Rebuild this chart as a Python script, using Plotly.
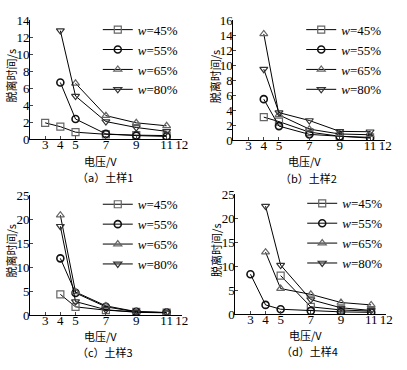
import plotly.graph_objects as go

# ---- data ----
series_names = ["<i>w</i>=45%", "<i>w</i>=55%", "<i>w</i>=65%", "<i>w</i>=80%"]

a_x45 = [3, 4, 5, 7, 9, 11]; a_y45 = [1.95, 1.5, 0.85, 0.6, 0.5, 0.45]
a_x55 = [4, 5, 7, 9, 11];    a_y55 = [6.7, 2.4, 0.65, 0.45, 0.35]
a_x65 = [5, 7, 9, 11];       a_y65 = [6.6, 2.8, 1.95, 1.6]
a_x80 = [4, 5, 7, 9, 11];    a_y80 = [12.8, 5.1, 2.1, 1.4, 0.95]

b_x45 = [4, 5, 7, 9, 11]; b_y45 = [3.1, 2.5, 1.1, 0.55, 0.4]
b_x55 = [4, 5, 7, 9, 11]; b_y55 = [5.5, 1.9, 0.8, 0.5, 0.3]
b_x65 = [4, 5, 7, 9, 11]; b_y65 = [14.2, 3.4, 1.5, 0.85, 0.75]
b_x80 = [4, 5, 7, 9, 11]; b_y80 = [9.5, 3.7, 2.65, 1.2, 1.15]

c_x45 = [4, 5, 7, 9, 11]; c_y45 = [4.3, 1.7, 1.0, 0.65, 0.5]
c_x55 = [4, 5, 7, 9, 11]; c_y55 = [11.8, 4.6, 1.7, 0.65, 0.5]
c_x65 = [4, 5, 7, 9, 11]; c_y65 = [20.8, 4.8, 1.9, 0.7, 0.5]
c_x80 = [4, 5, 7, 9, 11]; c_y80 = [18.5, 2.8, 1.1, 0.55, 0.45]

d_x45 = [5, 7, 9, 11];       d_y45 = [8.0, 1.5, 0.85, 0.6]
d_x55 = [3, 4, 5, 7, 9, 11]; d_y55 = [8.3, 1.9, 1.0, 0.65, 0.45, 0.35]
d_x65 = [4, 5, 7, 9, 11];    d_y65 = [12.9, 5.3, 4.1, 2.4, 1.9]
d_x80 = [4, 5, 7, 9, 11];    d_y80 = [22.5, 10.2, 3.0, 1.3, 0.75]

x_ticks = [3, 4, 5, 7, 9, 11, 12]
y_ticks_a = [0, 2, 4, 6, 8, 10, 12, 14]
y_ticks_b = [0, 2, 4, 6, 8, 10, 12, 14, 16]
y_ticks_cd = [0, 5, 10, 15, 20, 25]

captions = ["（a）土样1", "（b）土样2", "（c）土样3", "（d）土样4"]
x_title = "电压/V"
y_title = "脱离时间/s"

# ---- styling ----
W, H = 407, 370
SERIF = "Liberation Serif"
CJK = "Noto Sans CJK SC"
marker_styles = [
    dict(symbol="square-open", color="#666666", line=dict(width=1.2, color="#666666")),
    dict(symbol="circle-open", color="#111111", line=dict(width=1.6, color="#111111")),
    dict(symbol="triangle-up-open", color="#666666", line=dict(width=1.2, color="#666666")),
    dict(symbol="triangle-down-open", color="#333333", line=dict(width=1.2, color="#333333")),
]

# panel pixel boxes: (left, right, top, bottom)
boxes = [
    (30.5, 185, 14, 138),
    (237.5, 392, 14, 139),
    (30.5, 185, 196, 321),
    (239.5, 393, 195, 320),
]
yranges = [[0, 14], [0, 16], [0, 25], [0, 25]]
yticks = [y_ticks_a, y_ticks_b, y_ticks_cd, y_ticks_cd]

panels = [
    [(a_x45, a_y45), (a_x55, a_y55), (a_x65, a_y65), (a_x80, a_y80)],
    [(b_x45, b_y45), (b_x55, b_y55), (b_x65, b_y65), (b_x80, b_y80)],
    [(c_x45, c_y45), (c_x55, c_y55), (c_x65, c_y65), (c_x80, c_y80)],
    [(d_x45, d_y45), (d_x55, d_y55), (d_x65, d_y65), (d_x80, d_y80)],
]

fig = go.Figure()
layout = dict(
    width=W, height=H,
    margin=dict(l=0, r=0, t=0, b=0),
    paper_bgcolor="white", plot_bgcolor="white",
    showlegend=True,
    font=dict(family=SERIF, size=12, color="black"),
)
annotations = []

for i, (series, box) in enumerate(zip(panels, boxes)):
    k = "" if i == 0 else str(i + 1)
    leg = "legend" + k
    for j, (xs, ys) in enumerate(series):
        fig.add_trace(go.Scatter(
            x=xs, y=ys, mode="lines+markers", name=series_names[j],
            line=dict(color="black", width=1),
            marker=dict(size=7, **marker_styles[j]),
            xaxis="x" + k, yaxis="y" + k, legend=leg,
        ))
    l, r, t, b = box
    dom_x = [l / W, r / W]
    dom_y = [1 - b / H, 1 - t / H]
    layout["xaxis" + k] = dict(
        domain=dom_x, range=[2, 12], tickvals=x_ticks, ticks="inside", ticklen=3,
        showline=True, linecolor="black", linewidth=1, showgrid=False, zeroline=False,
        tickfont=dict(family=SERIF, size=13, color="black"), anchor="y" + k,
        ticklabelstandoff=-7,
    )
    layout["yaxis" + k] = dict(
        domain=dom_y, range=yranges[i], tickvals=yticks[i], ticks="inside", ticklen=3,
        showline=True, linecolor="black", linewidth=1, showgrid=False, zeroline=False,
        tickfont=dict(family=SERIF, size=13, color="black"), anchor="x" + k,
        ticklabelstandoff=-3,
    )
    layout[leg] = dict(
        x=(r + 2) / W, xanchor="right", y=1 - (t - 6) / H, yanchor="top",
        bgcolor="rgba(0,0,0,0)", font=dict(family=SERIF, size=13, color="black"),
        itemwidth=30, tracegroupgap=0,
    )
    cx = (l + r) / 2
    annotations.append(dict(
        text=y_title, xref="paper", yref="paper", x=(l - 19) / W, y=1 - ((t + b) / 2 - 4) / H,
        textangle=-90, showarrow=False, xanchor="center", yanchor="middle",
        font=dict(family=CJK, size=11, color="black"),
    ))
    annotations.append(dict(
        text=x_title, xref="paper", yref="paper", x=(cx - 5) / W, y=1 - (b + 22) / H,
        showarrow=False, xanchor="center", yanchor="middle",
        font=dict(family=CJK, size=11, color="black"),
    ))
    annotations.append(dict(
        text=captions[i], xref="paper", yref="paper", x=(cx - 1) / W, y=1 - (b + 39) / H,
        showarrow=False, xanchor="center", yanchor="middle",
        font=dict(family=CJK, size=11, color="black"),
    ))

layout["annotations"] = annotations
fig.update_layout(**layout)
fig.write_html("out.html", config={"displayModeBar": False},
               post_script="document.body.style.margin='0';")
